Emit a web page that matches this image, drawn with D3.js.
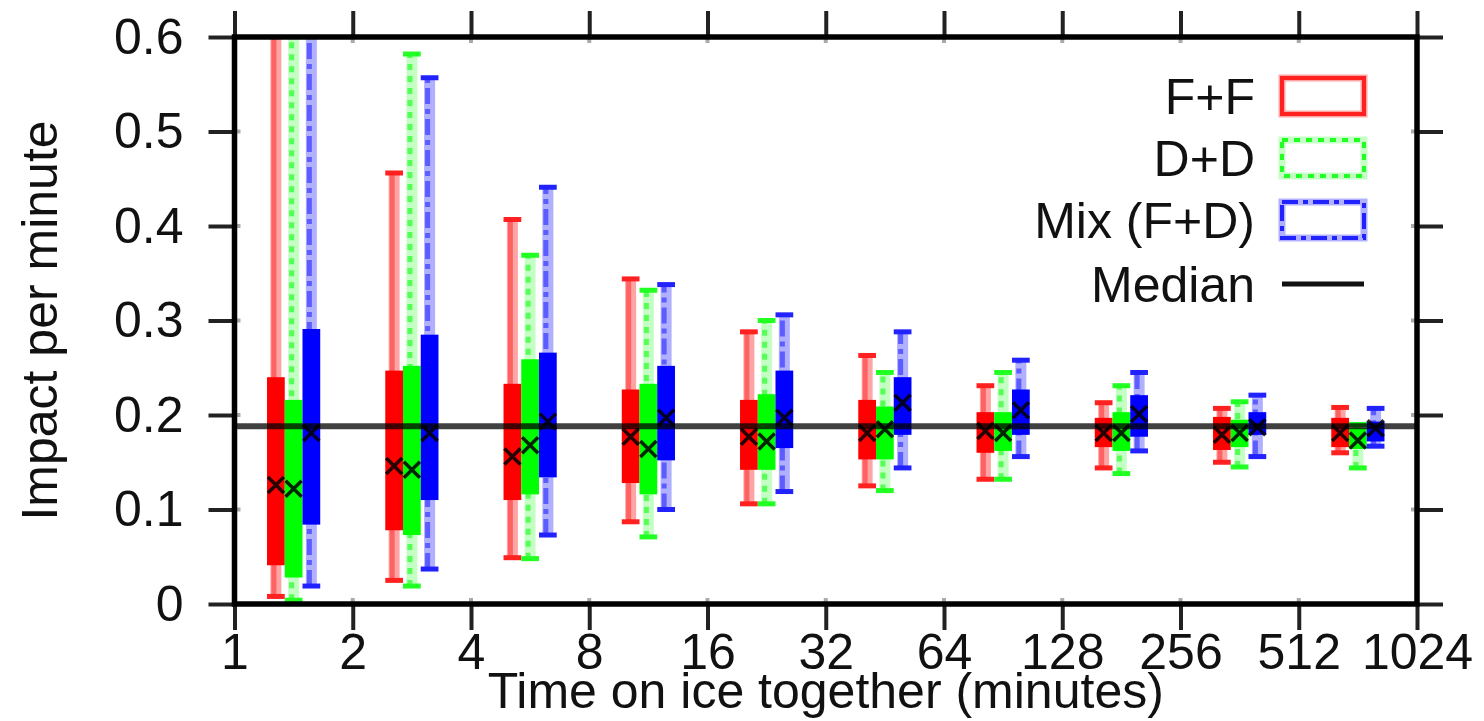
<!DOCTYPE html>
<meta charset="utf-8">
<script src="https://d3js.org/d3.v7.min.js"></script>
<style>
  body { margin: 0; background: #fff; }
  text { font-family: "Liberation Sans", Arial, sans-serif; fill: #111; }
</style>
<div id="my_dataviz"></div>
<script>

// x bins (minutes on ice together), each box sits in the middle of its bin
var bins = [1, 2, 4, 8, 16, 32, 64, 128, 256, 512];
var xTicks = [1, 2, 4, 8, 16, 32, 64, 128, 256, 512, 1024];
var yTicks = [0, 0.1, 0.2, 0.3, 0.4, 0.5, 0.6];

// F+F
var ffMin = [0.008, 0.025, 0.049, 0.087, 0.106, 0.125, 0.132, 0.144, 0.150, 0.160];
var ffQ1  = [0.041, 0.078, 0.110, 0.128, 0.142, 0.153, 0.160, 0.166, 0.163, 0.166];
var ffMed = [0.126, 0.146, 0.156, 0.177, 0.177, 0.181, 0.183, 0.181, 0.179, 0.181];
var ffQ3  = [0.240, 0.247, 0.233, 0.227, 0.216, 0.216, 0.203, 0.197, 0.198, 0.197];
var ffMax = [0.650, 0.456, 0.407, 0.344, 0.288, 0.263, 0.231, 0.213, 0.207, 0.208];

// D+D
var ddMin = [0.004, 0.019, 0.048, 0.071, 0.106, 0.120, 0.132, 0.138, 0.145, 0.144];
var ddQ1  = [0.028, 0.073, 0.116, 0.116, 0.142, 0.153, 0.162, 0.162, 0.166, 0.164];
var ddMed = [0.122, 0.142, 0.168, 0.164, 0.172, 0.185, 0.181, 0.181, 0.181, 0.173];
var ddQ3  = [0.216, 0.252, 0.259, 0.233, 0.222, 0.209, 0.203, 0.203, 0.195, 0.186];
var ddMax = [0.650, 0.582, 0.369, 0.332, 0.300, 0.245, 0.245, 0.231, 0.214, 0.190];

// Mix (F+D)
var mxMin = [0.019, 0.037, 0.073, 0.100, 0.119, 0.144, 0.156, 0.162, 0.156, 0.167];
var mxQ1  = [0.084, 0.110, 0.134, 0.152, 0.165, 0.179, 0.179, 0.177, 0.179, 0.172];
var mxMed = [0.181, 0.181, 0.193, 0.197, 0.197, 0.213, 0.205, 0.201, 0.187, 0.186];
var mxQ3  = [0.291, 0.285, 0.266, 0.252, 0.247, 0.240, 0.227, 0.221, 0.203, 0.193];
var mxMax = [0.650, 0.557, 0.441, 0.338, 0.306, 0.288, 0.258, 0.245, 0.221, 0.207];

// overall median
var overallMedian = 0.188;

var seriesNames = ["F+F", "D+D", "Mix (F+D)"];

// build the series table for drawing
var series = [
  { name: seriesNames[0], min: ffMin, q1: ffQ1, med: ffMed, q3: ffQ3, max: ffMax,
    fill: "#ff0000", cap: "#ff2020", core: "#ff6262", halo: "#ffa4a4", dash: null, shift: -0.15 },
  { name: seriesNames[1], min: ddMin, q1: ddQ1, med: ddMed, q3: ddQ3, max: ddMax,
    fill: "#00ff00", cap: "#22ff22", core: "#55ff55", halo: "#c4ffc4", dash: "6,6", shift: 0 },
  { name: seriesNames[2], min: mxMin, q1: mxQ1, med: mxMed, q3: mxQ3, max: mxMax,
    fill: "#0000ff", cap: "#2222ff", core: "#5c5cff", halo: "#b0b0ff", dash: "16,5,5,5", shift: 0.15 }
];

// set the dimensions of the graph
var W = 1484, H = 721;
var plot = { left: 234.5, right: 1417, top: 37, bottom: 604 };

var svg = d3.select("#my_dataviz")
  .append("svg")
    .attr("width", W)
    .attr("height", H);

var x = d3.scaleLog().base(2)
  .domain([1, 1024])
  .range([plot.left, plot.right]);

var y = d3.scaleLinear()
  .domain([0, 0.6])
  .range([plot.bottom, plot.top]);

// clip for whiskers leaving the top
svg.append("clipPath").attr("id", "clip")
  .append("rect")
    .attr("x", plot.left).attr("y", plot.top)
    .attr("width", plot.right - plot.left).attr("height", plot.bottom - plot.top);

// axes: ticks pointing outward on all four sides
function styleAxis(g) {
  g.select(".domain").remove();
  g.selectAll(".tick line").attr("stroke", "#222").attr("stroke-width", 4);
  g.selectAll(".tick text").style("font-size", "50px").attr("fill", "#111");
}

svg.append("g")
  .attr("transform", "translate(0," + plot.bottom + ")")
  .call(d3.axisBottom(x).tickValues(xTicks).tickFormat(d3.format("d")).tickSize(26).tickPadding(3))
  .call(styleAxis);

svg.append("g")
  .attr("transform", "translate(0," + plot.top + ")")
  .call(d3.axisTop(x).tickValues(xTicks).tickFormat("").tickSize(26))
  .call(styleAxis);

svg.append("g")
  .attr("transform", "translate(" + plot.left + ",0)")
  .call(d3.axisLeft(y).tickValues(yTicks).tickFormat(d3.format(".1~f")).tickSize(26).tickPadding(25))
  .call(styleAxis);

svg.append("g")
  .attr("transform", "translate(" + plot.right + ",0)")
  .call(d3.axisRight(y).tickValues(yTicks).tickFormat("").tickSize(26))
  .call(styleAxis);

// short inward stubs of the ticks
var stubs = svg.append("g").attr("stroke", "#aaa").attr("stroke-width", 4);
xTicks.forEach(function(t) {
  stubs.append("line").attr("x1", x(t)).attr("x2", x(t)).attr("y1", plot.bottom).attr("y2", plot.bottom - 6);
  stubs.append("line").attr("x1", x(t)).attr("x2", x(t)).attr("y1", plot.top).attr("y2", plot.top + 6);
});
yTicks.forEach(function(t) {
  stubs.append("line").attr("x1", plot.left).attr("x2", plot.left + 6).attr("y1", y(t)).attr("y2", y(t));
  stubs.append("line").attr("x1", plot.right).attr("x2", plot.right - 6).attr("y1", y(t)).attr("y2", y(t));
});

var marks = svg.append("g").attr("clip-path", "url(#clip)");

// box width and position in log units
var halfBox = 0.075;

series.forEach(function(s) {
  var g = marks.append("g");
  bins.forEach(function(b, i) {
    var c = b * Math.SQRT2 * Math.pow(2, s.shift);
    var cx = x(c);
    var x0 = x(c * Math.pow(2, -halfBox)), x1 = x(c * Math.pow(2, halfBox));

    // whisker
    g.append("line")
      .attr("x1", cx).attr("x2", cx)
      .attr("y1", y(s.min[i])).attr("y2", y(s.max[i]))
      .attr("stroke", s.halo).attr("stroke-width", 11);
    g.append("line")
      .attr("x1", cx - 2).attr("x2", cx - 2)
      .attr("y1", y(s.min[i])).attr("y2", y(s.max[i]))
      .attr("stroke", s.core).attr("stroke-width", 5)
      .attr("stroke-dasharray", s.dash);

    // whisker bars
    [s.min[i], s.max[i]].forEach(function(v) {
      g.append("line")
        .attr("x1", x0).attr("x2", x1)
        .attr("y1", y(v)).attr("y2", y(v))
        .attr("stroke", s.cap).attr("stroke-width", 5);
    });

    // quartile box
    g.append("rect")
      .attr("x", x0).attr("width", x1 - x0)
      .attr("y", y(s.q3[i])).attr("height", y(s.q1[i]) - y(s.q3[i]))
      .attr("fill", s.fill);
  });
});

// per box median as a cross
series.forEach(function(s) {
  bins.forEach(function(b, i) {
    var cx = x(b * Math.SQRT2 * Math.pow(2, s.shift));
    var cy = y(s.med[i]);
    var r = 8;
    marks.append("path")
      .attr("d", "M" + (cx - r) + "," + (cy - r) + "L" + (cx + r) + "," + (cy + r) +
                 "M" + (cx - r) + "," + (cy + r) + "L" + (cx + r) + "," + (cy - r))
      .attr("stroke", "#000").attr("stroke-opacity", 0.85).attr("stroke-width", 3.5)
      .attr("fill", "none");
  });
});

// overall median line
marks.append("line")
  .attr("x1", plot.left).attr("x2", plot.right)
  .attr("y1", y(overallMedian)).attr("y2", y(overallMedian))
  .attr("stroke", "#000").attr("stroke-opacity", 0.75).attr("stroke-width", 6);

// plot border
svg.append("rect")
  .attr("x", plot.left).attr("y", plot.top)
  .attr("width", plot.right - plot.left).attr("height", plot.bottom - plot.top)
  .attr("fill", "none").attr("stroke", "#000").attr("stroke-width", 5.5);

// axis titles
svg.append("text")
  .attr("x", (plot.left + plot.right) / 2).attr("y", 708)
  .attr("text-anchor", "middle")
  .style("font-size", "50px")
  .text("Time on ice together (minutes)");

svg.append("text")
  .attr("transform", "translate(57," + ((plot.top + plot.bottom) / 2) + ") rotate(-90)")
  .attr("text-anchor", "middle")
  .style("font-size", "50px")
  .text("Impact per minute");

// legend
var legend = svg.append("g");
var rowY = [96, 158, 220, 284];
var legendItems = series.concat([{ name: "Median" }]);
legendItems.forEach(function(s, i) {
  legend.append("text")
    .attr("x", 1255).attr("y", rowY[i]).attr("dy", "0.36em")
    .attr("text-anchor", "end")
    .style("font-size", "50px")
    .text(s.name);
  if (s.fill) {
    legend.append("rect")
      .attr("x", 1282).attr("y", rowY[i] - 18)
      .attr("width", 82).attr("height", 36)
      .attr("fill", "none")
      .attr("stroke", s.halo).attr("stroke-width", 7);
    legend.append("rect")
      .attr("x", 1282).attr("y", rowY[i] - 18)
      .attr("width", 82).attr("height", 36)
      .attr("fill", "none")
      .attr("stroke", s.cap).attr("stroke-width", 4)
      .attr("stroke-dasharray", s.dash);
  } else {
    legend.append("line")
      .attr("x1", 1282).attr("x2", 1364)
      .attr("y1", rowY[i]).attr("y2", rowY[i])
      .attr("stroke", "#111").attr("stroke-width", 5);
  }
});

</script>
